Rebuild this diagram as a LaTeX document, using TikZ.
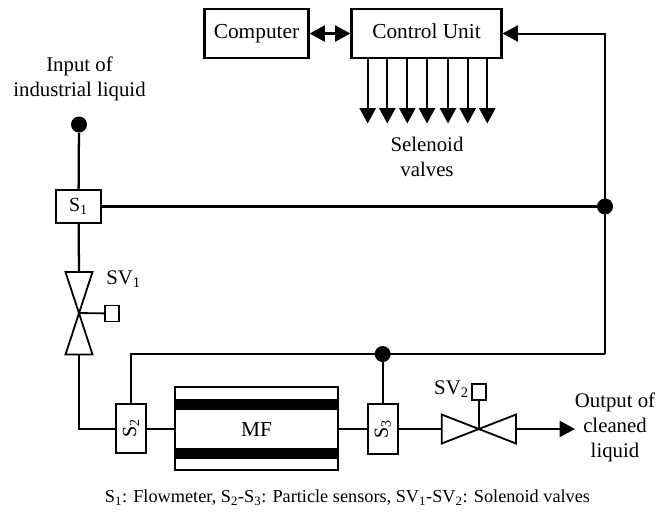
\documentclass[tikz,border=0pt]{standalone}
\usepackage{fontspec}
\setmainfont{Liberation Serif}
\usetikzlibrary{arrows.meta,calc}
\tikzset{
  px/.style={x=0.75pt,y=-0.75pt},
  boxnode/.style={draw,line width=1.6pt,fill=white,inner sep=0pt,align=center,font=\fontsize{16}{16}\selectfont,text height=11pt,text depth=3.5pt},
  sensor/.style={draw,line width=1.6pt,fill=white,inner sep=0pt,align=center,font=\fontsize{15}{15}\selectfont},
  plainbox/.style={draw,line width=1.4pt,fill=white,inner sep=0pt},
  lbl/.style={inner sep=0pt,align=center,font=\fontsize{15.6}{18.8}\selectfont},
  dotnode/.style={circle,fill=black,draw=none,inner sep=0pt,minimum size=12pt},
  pipe/.style={line width=1.5pt},
  sig/.style={line width=1.7pt},
  tip/.style={-{Triangle[length=11.5pt,width=12pt]}},
  tips/.style={{Triangle[length=11.5pt,width=12pt]}-{Triangle[length=11.5pt,width=12pt]}},
  valveline/.style={line width=1.35pt,line join=miter},
  smallsq/.style={draw,line width=1.3pt,fill=white,inner sep=0pt,minimum width=10.8pt,minimum height=12pt},
}
\begin{document}
\begin{tikzpicture}[px]
\useasboundingbox (0,0) rectangle (659,512);
% boxes
\node[boxnode,minimum width=78pt,minimum height=36.8pt] (comp) at (256.5,33.5) {Computer};
\node[boxnode,minimum width=112.5pt,minimum height=36.8pt] (cu) at (426.5,33.5) {Control Unit};
\draw[sig,tips] (comp.east) -- (cu.west);
% selenoid arrows
\foreach \n/\x in {a/367.7,b/387.3,c/407.3,d/427,e/448,f/467.7,g/487.3}{
  \coordinate (v\n) at (\x,123.5);
  \draw[sig,tip] (cu.south -| v\n) -- (v\n);
}
\node[lbl] (sel) at (427,157) {Selenoid\\valves};
% input
\node[lbl] (inp) at (79.5,79) {Input of\\industrial liquid};
\node[dotnode] (d1) at (79,124.5) {};
\node[sensor,minimum width=33.5pt,minimum height=25pt] (s1) at (78.5,206.5) {S\textsubscript{1}};
\draw[sig] (d1) -- (s1);
% junction right
\node[dotnode] (d2) at (605,206.5) {};
\coordinate (tr) at (605,33.5);
\coordinate (br) at (605,354);
\draw[sig] (s1) -- (d2);
\draw[pipe,tip] (br) -- (tr) -- (cu.east);
% SV1
\coordinate (v1t) at (79,272);
\coordinate (v1c) at (79,313);
\coordinate (v1b) at (79,354.5);
\draw[sig] (s1) -- (v1t);
\draw[valveline] (65.5,272) -- (92.5,272) -- (65.5,354.5) -- (92.5,354.5) -- cycle;
\node[smallsq,minimum width=10.5pt,minimum height=12pt] (q1) at (112,313.5) {};
\draw[valveline] (v1c) -- (q1);
\node[lbl,anchor=west] (sv1) at (106,279) {SV\textsubscript{1}};
% sensors and MF
\node[plainbox,minimum width=22.5pt,minimum height=37.3pt] (s2) at (131,428.5) {};
\node[rotate=90,inner sep=0pt,font=\fontsize{15}{15}\selectfont] (s2t) at (131,428.5) {S\textsubscript{2}};
\node[plainbox,minimum width=22.5pt,minimum height=37.3pt] (s3) at (382.7,428.8) {};
\node[rotate=90,inner sep=0pt,font=\fontsize{15}{15}\selectfont] (s3t) at (382.7,428.8) {S\textsubscript{3}};
\node[plainbox,minimum width=122.5pt,minimum height=62.5pt] (mf) at (256.5,428.7) {};
\fill (175,399) rectangle (338,409.5);
\fill (175,448) rectangle (338,458.5);
\node[inner sep=0pt,font=\fontsize{16}{16}\selectfont] (mft) at (256.5,430) {MF};
\coordinate (c1) at (79,429);
\draw[pipe] (v1b) -- (c1) -- (s2.west |- c1);
\draw[pipe] (s2.east |- c1) -- (mf.west |- c1);
\draw[pipe] (mf.east |- c1) -- (s3.west |- c1);
% sensor line
\node[dotnode] (d3) at (382.7,354) {};
\coordinate (tl) at (130.5,354);
\draw[pipe] (s2.north -| tl) -- (tl) -- (br);
\draw[sig] (s3) -- (d3);
% SV2
\coordinate (v2c) at (479,429);
\draw[valveline] (441.7,414.5) -- (441.7,443.5) -- (516,414.5) -- (516,443.5) -- cycle;
\draw[pipe] (s3.east |- c1) -- (441.7,429);
\node[smallsq] (q2) at (479,392) {};
\draw[valveline] (q2) -- (v2c);
\node[lbl,anchor=east] (sv2) at (469,389) {SV\textsubscript{2}};
\node[lbl] (out) at (615,427) {Output of\\cleaned\\liquid};
\coordinate (o1) at (516,429);
\coordinate (o2) at (575,429);
\draw[sig,tip] (o1) -- (o2);
\node[inner sep=0pt,font=\fontsize{13.7}{15}\selectfont] (cap) at (347.5,498) {S\textsubscript{1}: Flowmeter, S\textsubscript{2}-S\textsubscript{3}: Particle sensors, SV\textsubscript{1}-SV\textsubscript{2}: Solenoid valves};
\end{tikzpicture}
\end{document}
